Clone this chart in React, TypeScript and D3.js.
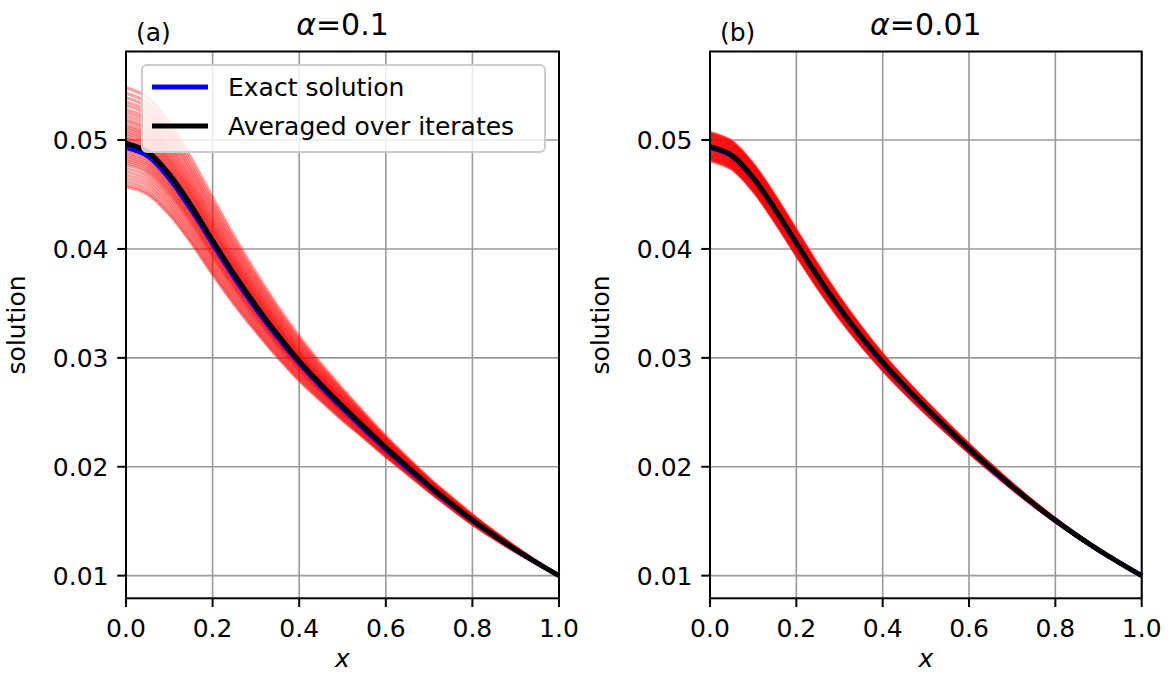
import React from "react";
import * as d3 from "d3";

// ---- data ----
const XS = [0, 0.05, 0.1, 0.15, 0.2, 0.25, 0.3, 0.35, 0.4, 0.45, 0.5, 0.55, 0.6, 0.65, 0.7, 0.75, 0.8, 0.85, 0.9, 0.95, 1.0];
const EXACT = [0.0493, 0.04852, 0.04645, 0.04361, 0.04046, 0.03736, 0.03449, 0.03188, 0.0295, 0.02736, 0.02535, 0.02344, 0.0216, 0.01984, 0.01815, 0.01655, 0.01505, 0.01365, 0.01235, 0.01114, 0.0100];
const AVG_A = [0.0497, 0.04892, 0.04685, 0.04401, 0.04076, 0.03766, 0.03479, 0.03213, 0.0297, 0.02756, 0.02555, 0.02364, 0.02175, 0.01999, 0.01825, 0.01665, 0.0151, 0.0137, 0.01238, 0.01115, 0.0100];
const AVG_B = [0.0494, 0.04862, 0.04655, 0.04371, 0.04056, 0.03746, 0.03459, 0.03198, 0.0296, 0.02745, 0.02544, 0.02352, 0.02167, 0.0199, 0.0182, 0.01659, 0.01508, 0.01367, 0.01236, 0.01115, 0.0100];
// relative spread of the iterates band along x
const SPREAD_A = [1, 0.98, 0.93, 0.86, 0.78, 0.69, 0.6, 0.52, 0.45, 0.38, 0.32, 0.26, 0.21, 0.17, 0.14, 0.12, 0.10, 0.075, 0.05, 0.025, 0];
const SPREAD_B = [1, 0.99, 0.97, 0.94, 0.9, 0.83, 0.75, 0.66, 0.57, 0.5, 0.43, 0.36, 0.3, 0.24, 0.19, 0.15, 0.11, 0.08, 0.05, 0.025, 0];
// offset of each iterate at x=0 (units of 1e-3)
const OFFSETS_A = [5.1, 4.6, 4.2, 3.8, 3.5, 3.1, 2.8, 2.5, 2.2, 2.0, 1.7, 1.5, 1.3, 1.1, 0.9, 0.7, 0.5, 0.35, 0.2, 0.05, -0.1, -0.3, -0.45, -0.6, -0.8, -1.0, -1.2, -1.4, -1.6, -1.8, -2.0, -2.3, -2.6, -2.9, -3.2, -3.5, -3.8, -4.0];
const OFFSETS_B = [1.3, 1.2, 1.1, 1.0, 0.9, 0.8, 0.7, 0.6, 0.5, 0.4, 0.3, 0.2, 0.1, 0.0, -0.1, -0.2, -0.3, -0.4, -0.5, -0.6, -0.7, -0.8, -0.9, -1.0, -1.1, -1.2, -1.3];
const X_TICKS = [0, 0.2, 0.4, 0.6, 0.8, 1.0];
const Y_TICKS = [0.01, 0.02, 0.03, 0.04, 0.05];
const Y_DOMAIN = [0.00792, 0.05813];

const FONT = "DejaVu Sans, Liberation Sans, sans-serif";

type PanelProps = {
  left: number;
  right: number;
  tag: string;
  alpha: string;
  avg: number[];
  spread: number[];
  offsets: number[];
  redOpacity: number;
  redWidth: number;
  legend: boolean;
};

const TOP = 51.5;
const BOTTOM = 598.3;

function Panel(p: PanelProps) {
  const x = d3.scaleLinear().domain([0, 1]).range([p.left, p.right]);
  const y = d3.scaleLinear().domain(Y_DOMAIN).range([BOTTOM, TOP]);
  const line = d3
    .line<[number, number]>()
    .x((d) => x(d[0]))
    .y((d) => y(d[1]))
    .curve(d3.curveCatmullRom.alpha(0.5));
  const cx = (p.left + p.right) / 2;
  const tick = 8.75;

  const reds = p.offsets.map((o) =>
    XS.map((xv, i) => [xv, p.avg[i] + o * 1e-3 * p.spread[i]] as [number, number])
  );

  return (
    <g>
      {/* grid */}
      {X_TICKS.map((t) => (
        <line key={"gx" + t} x1={x(t)} x2={x(t)} y1={TOP} y2={BOTTOM} stroke="#9a9a9a" strokeWidth={1.6} />
      ))}
      {Y_TICKS.map((t) => (
        <line key={"gy" + t} x1={p.left} x2={p.right} y1={y(t)} y2={y(t)} stroke="#9a9a9a" strokeWidth={1.6} />
      ))}
      {/* iterates */}
      {reds.map((r, i) => (
        <path key={"r" + i} d={line(r) || ""} fill="none" stroke="#ff0000" strokeOpacity={p.redOpacity} strokeWidth={p.redWidth} />
      ))}
      <path d={line(XS.map((xv, i) => [xv, EXACT[i]] as [number, number])) || ""} fill="none" stroke="#0000ff" strokeWidth={4.5} />
      <path d={line(XS.map((xv, i) => [xv, p.avg[i]] as [number, number])) || ""} fill="none" stroke="#000000" strokeWidth={5} />
      {/* frame */}
      <rect x={p.left} y={TOP} width={p.right - p.left} height={BOTTOM - TOP} fill="none" stroke="#000" strokeWidth={2} />
      {/* x ticks */}
      {X_TICKS.map((t) => (
        <g key={"tx" + t}>
          <line x1={x(t)} x2={x(t)} y1={BOTTOM} y2={BOTTOM + tick} stroke="#000" strokeWidth={2} />
          <text x={x(t)} y={637} textAnchor="middle" fontFamily={FONT} fontSize={25} fill="#000">
            {t.toFixed(1)}
          </text>
        </g>
      ))}
      {/* y ticks */}
      {Y_TICKS.map((t) => (
        <g key={"ty" + t}>
          <line x1={p.left - tick} x2={p.left} y1={y(t)} y2={y(t)} stroke="#000" strokeWidth={2} />
          <text x={p.left - tick - 8.75} y={y(t) + 9} textAnchor="end" fontFamily={FONT} fontSize={25} fill="#000">
            {t.toFixed(2)}
          </text>
        </g>
      ))}
      {/* labels */}
      <text x={cx} y={667} textAnchor="middle" fontFamily={FONT} fontStyle="italic" fontSize={25} fill="#000">
        x
      </text>
      <text
        transform={`translate(${p.left - 101},${(TOP + BOTTOM) / 2}) rotate(-90)`}
        textAnchor="middle"
        fontFamily={FONT}
        fontSize={25}
        fill="#000"
      >
        solution
      </text>
      <text x={cx} y={35} textAnchor="middle" fontFamily={FONT} fontSize={30} fill="#000">
        <tspan fontStyle="italic">α</tspan>
        <tspan>={p.alpha}</tspan>
      </text>
      <text x={p.left + 10} y={41} fontFamily={FONT} fontSize={25} fill="#000">
        {p.tag}
      </text>
      {p.legend && (
        <g>
          <rect x={142} y={65} width={403} height={87} rx={5} fill="#ffffff" fillOpacity={0.8} stroke="#cccccc" strokeWidth={2} />
          <line x1={152} x2={208} y1={87} y2={87} stroke="#0000ff" strokeWidth={5} />
          <line x1={152} x2={208} y1={126} y2={126} stroke="#000000" strokeWidth={5} />
          <text x={228} y={96} fontFamily={FONT} fontSize={25} fill="#000">
            Exact solution
          </text>
          <text x={228} y={135} fontFamily={FONT} fontSize={25} fill="#000">
            Averaged over iterates
          </text>
        </g>
      )}
    </g>
  );
}

export default function App() {
  return (
    <svg
      width={1169}
      height={674}
      viewBox="0 0 1169 674"
      style={{ position: "absolute", left: 0, top: 0, background: "#fff" }}
    >
      <rect x={0} y={0} width={1169} height={674} fill="#fff" />
      <Panel
        left={126}
        right={559}
        tag="(a)"
        alpha="0.1"
        avg={AVG_A}
        spread={SPREAD_A}
        offsets={OFFSETS_A}
        redOpacity={0.38}
        redWidth={3}
        legend={true}
      />
      <Panel
        left={710}
        right={1141.7}
        tag="(b)"
        alpha="0.01"
        avg={AVG_B}
        spread={SPREAD_B}
        offsets={OFFSETS_B}
        redOpacity={0.6}
        redWidth={3}
        legend={false}
      />
    </svg>
  );
}
